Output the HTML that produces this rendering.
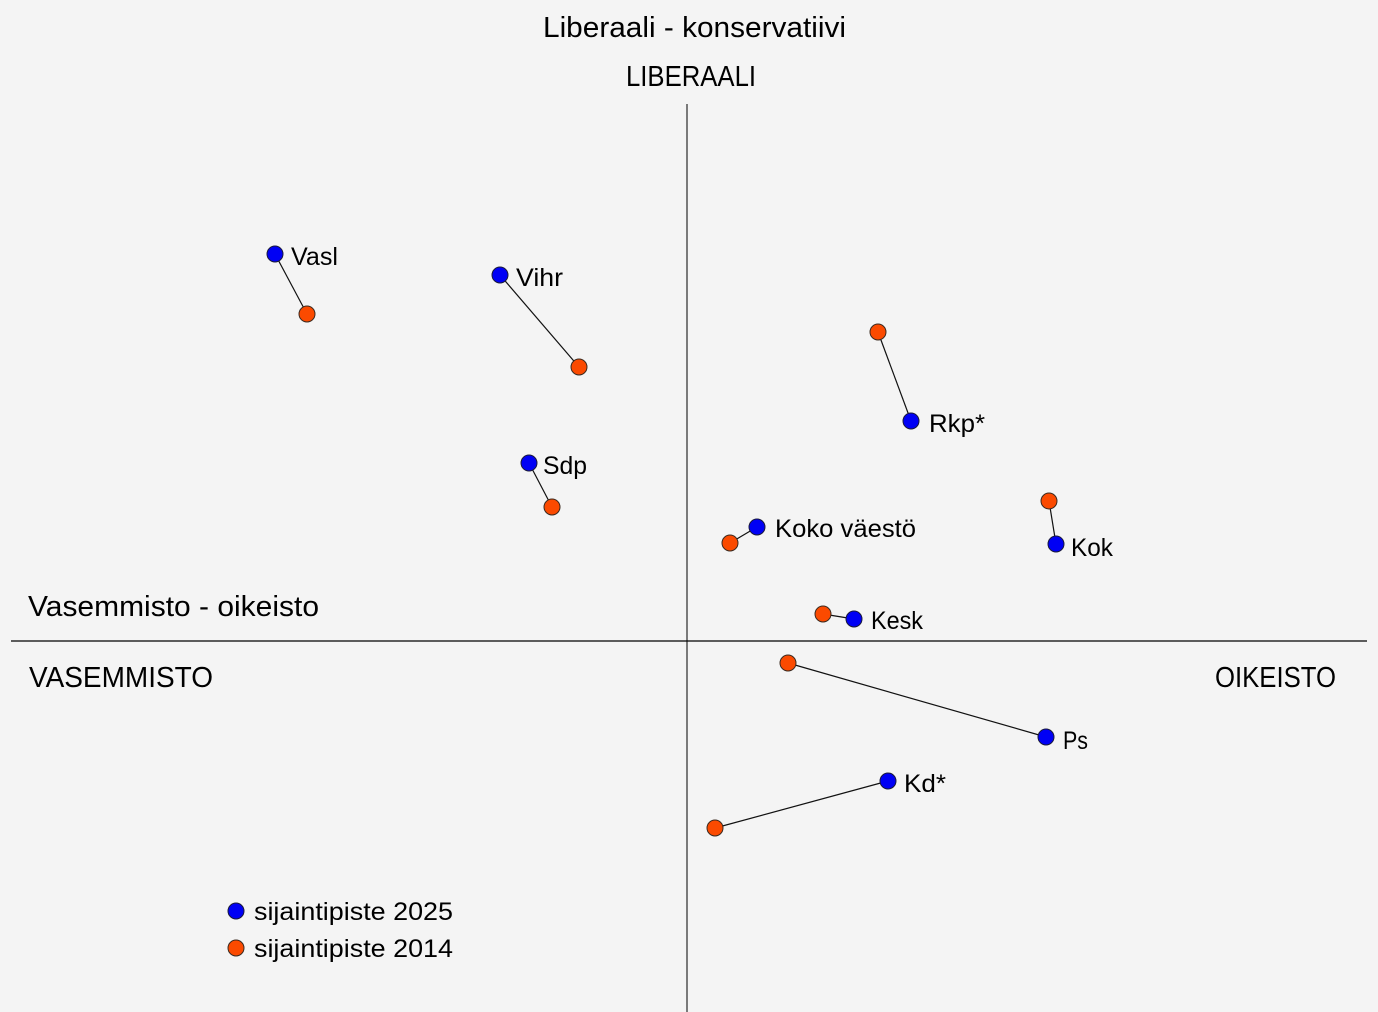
<!DOCTYPE html>
<html>
<head>
<meta charset="utf-8">
<style>
html,body{margin:0;padding:0;background:#f4f4f4;}
svg{display:block;}
text{font-family:"Liberation Sans",sans-serif;fill:#000;}
</style>
</head>
<body>
<svg width="1378" height="1012" viewBox="0 0 1378 1012" xmlns="http://www.w3.org/2000/svg">
<rect x="0" y="0" width="1378" height="1012" fill="#f4f4f4"/>
<!-- axes -->
<line x1="687" y1="104" x2="687" y2="1012" stroke="#7a7a7a" stroke-width="2"/>
<line x1="11" y1="641" x2="1367" y2="641" stroke="#000" stroke-width="1.3"/>

<!-- titles -->
<text x="543" y="37" font-size="29" textLength="303" lengthAdjust="spacingAndGlyphs">Liberaali - konservatiivi</text>
<text x="626" y="86" font-size="29" textLength="130" lengthAdjust="spacingAndGlyphs">LIBERAALI</text>
<text x="28" y="616" font-size="29" textLength="291" lengthAdjust="spacingAndGlyphs">Vasemmisto - oikeisto</text>
<text x="29" y="687" font-size="29" textLength="184" lengthAdjust="spacingAndGlyphs">VASEMMISTO</text>
<text x="1215" y="687" font-size="29" textLength="121" lengthAdjust="spacingAndGlyphs">OIKEISTO</text>

<!-- connecting lines -->
<g stroke="#111" stroke-width="1.2">
<line x1="275" y1="254" x2="307" y2="314"/>
<line x1="500" y1="275" x2="579" y2="367"/>
<line x1="529" y1="463" x2="552" y2="507"/>
<line x1="878" y1="332" x2="911" y2="421"/>
<line x1="757" y1="527" x2="730" y2="543"/>
<line x1="1049" y1="501" x2="1056" y2="544"/>
<line x1="823" y1="614" x2="854" y2="619"/>
<line x1="788" y1="663" x2="1046" y2="737"/>
<line x1="888" y1="781" x2="715" y2="828"/>
</g>

<!-- orange 2014 -->
<g fill="#fb4a00" stroke="#3a2a20" stroke-width="1">
<circle cx="307" cy="314" r="8"/>
<circle cx="579" cy="367" r="8"/>
<circle cx="552" cy="507" r="8"/>
<circle cx="878" cy="332" r="8"/>
<circle cx="730" cy="543" r="8"/>
<circle cx="1049" cy="501" r="8"/>
<circle cx="823" cy="614" r="8"/>
<circle cx="788" cy="663" r="8"/>
<circle cx="715" cy="828" r="8"/>
<circle cx="236" cy="948" r="8"/>
</g>
<!-- blue 2025 -->
<g fill="#0000f5" stroke="#1a1a3a" stroke-width="1">
<circle cx="275" cy="254" r="8"/>
<circle cx="500" cy="275" r="8"/>
<circle cx="529" cy="463" r="8"/>
<circle cx="911" cy="421" r="8"/>
<circle cx="757" cy="527" r="8"/>
<circle cx="1056" cy="544" r="8"/>
<circle cx="854" cy="619" r="8"/>
<circle cx="1046" cy="737" r="8"/>
<circle cx="888" cy="781" r="8"/>
<circle cx="236" cy="911" r="8"/>
</g>

<!-- labels -->
<g font-size="25">
<text x="291" y="265" textLength="47" lengthAdjust="spacingAndGlyphs">Vasl</text>
<text x="516" y="286" textLength="47" lengthAdjust="spacingAndGlyphs">Vihr</text>
<text x="543" y="474" textLength="44" lengthAdjust="spacingAndGlyphs">Sdp</text>
<text x="929" y="432" textLength="56" lengthAdjust="spacingAndGlyphs">Rkp*</text>
<text x="775" y="537" textLength="141" lengthAdjust="spacingAndGlyphs">Koko väestö</text>
<text x="1071" y="556" textLength="42" lengthAdjust="spacingAndGlyphs">Kok</text>
<text x="871" y="629" textLength="52" lengthAdjust="spacingAndGlyphs">Kesk</text>
<text x="1063" y="749" textLength="25" lengthAdjust="spacingAndGlyphs">Ps</text>
<text x="904" y="792" textLength="42" lengthAdjust="spacingAndGlyphs">Kd*</text>
<text x="254" y="920" textLength="199" lengthAdjust="spacingAndGlyphs">sijaintipiste 2025</text>
<text x="254" y="957" textLength="199" lengthAdjust="spacingAndGlyphs">sijaintipiste 2014</text>
</g>
</svg>
</body>
</html>
